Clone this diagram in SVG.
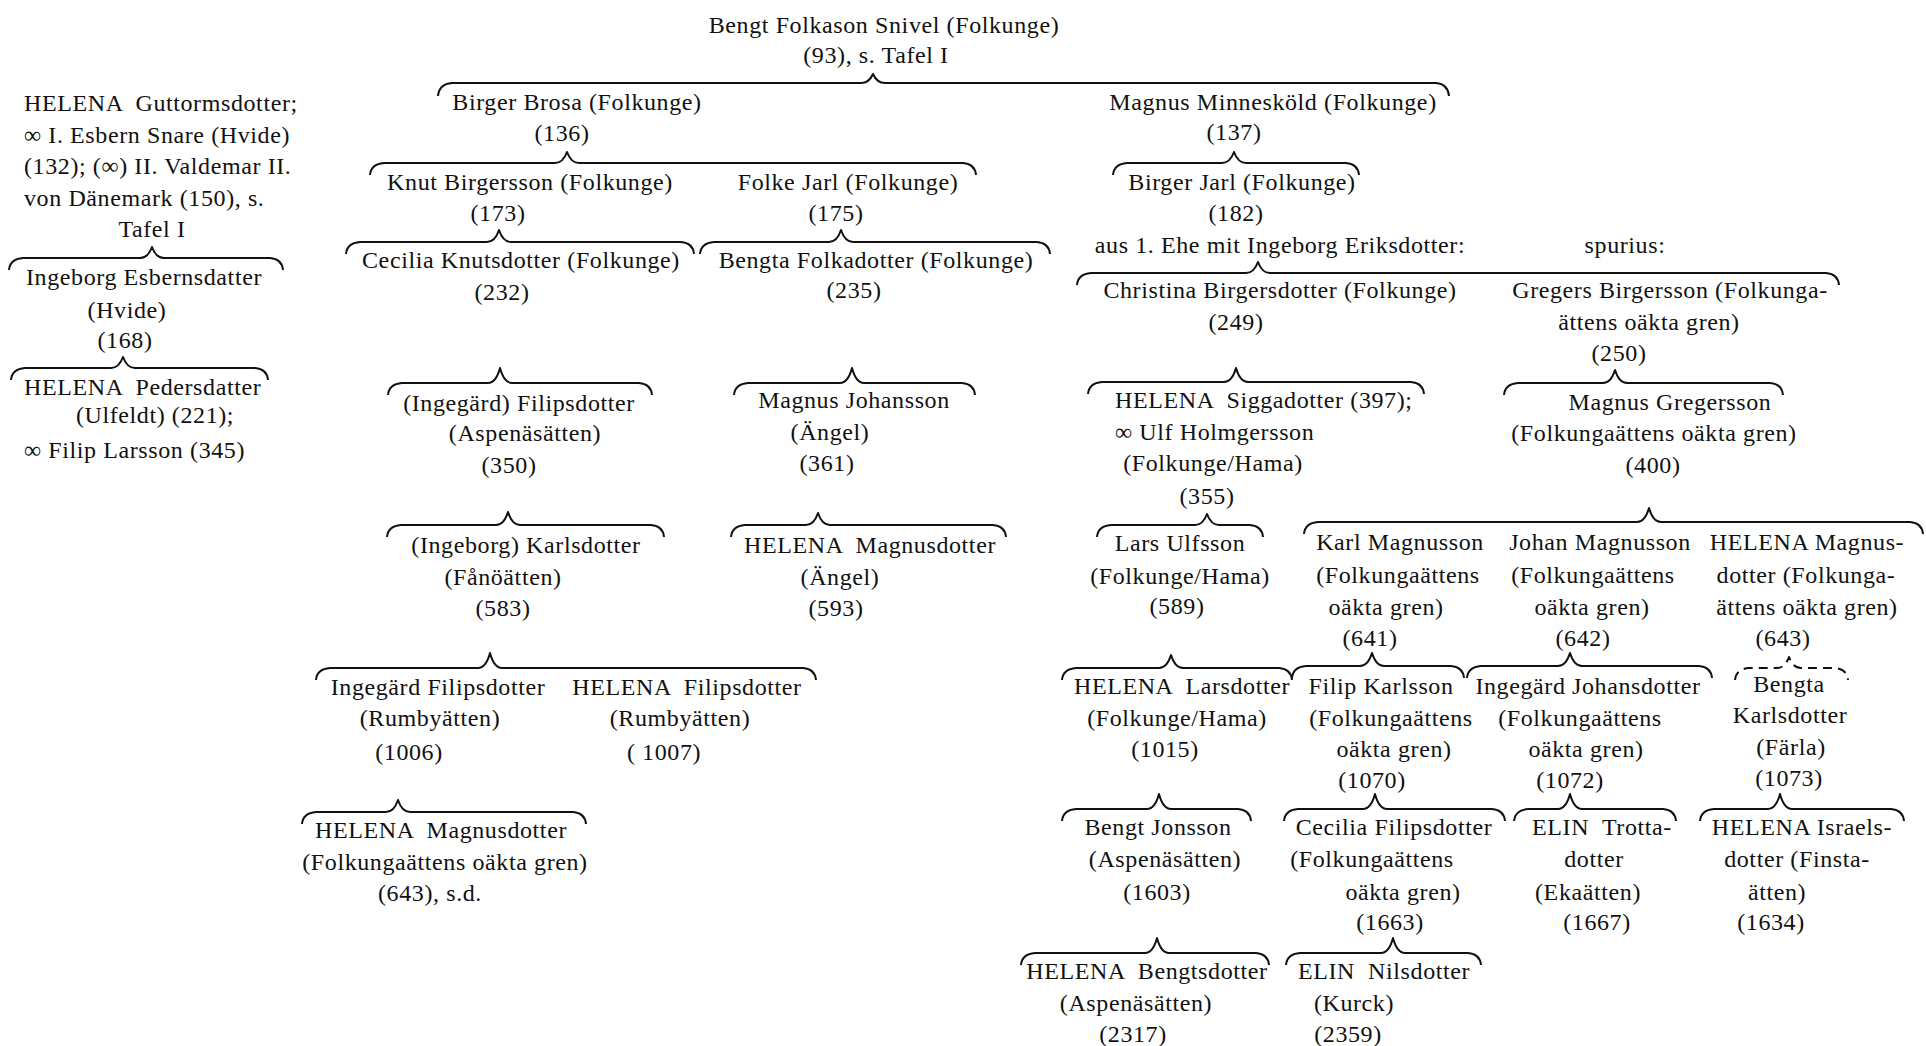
<svg xmlns="http://www.w3.org/2000/svg" width="1926" height="1046" viewBox="0 0 1926 1046">
<style>
text{font-family:"Liberation Serif",serif;font-size:24px;fill:#111;letter-spacing:0.6px;text-anchor:middle;white-space:pre}
text.s{text-anchor:start}
.b{fill:none;stroke:#111;stroke-width:2;stroke-linejoin:round}
.d{stroke-dasharray:9 6}
</style>
<rect width="1926" height="1046" fill="#fff"/>
<g id="connectors">
<path class="b" d="M438,96 Q439,84 452,83 L861,83 Q869,83 873,74 Q877,83 885,83 L1436,83 Q1448,84 1449,96"/>
<path class="b" d="M370,175 Q371,164 384,163 L555,163 Q563,163 567,152 Q571,163 579,163 L963,163 Q975,164 976,175"/>
<path class="b" d="M1113,175 Q1114,164 1127,163 L1222,163 Q1230,163 1234,152 Q1238,163 1246,163 L1346,163 Q1358,164 1359,175"/>
<path class="b" d="M346,254 Q347,243 360,242 L487,242 Q495,242 499,230 Q503,242 511,242 L681,242 Q693,243 694,254"/>
<path class="b" d="M700,254 Q701,243 714,242 L829,242 Q837,242 841,230 Q845,242 853,242 L1037,242 Q1049,243 1050,254"/>
<path class="b" d="M1077,285 Q1078,274 1091,273 L1246,273 Q1254,273 1258,262 Q1262,273 1270,273 L1826,273 Q1838,274 1839,285"/>
<path class="b" d="M388,395 Q389,384 402,383 L488,383 Q496,383 500,368 Q504,383 512,383 L639,383 Q651,384 652,395"/>
<path class="b" d="M734,395 Q735,384 748,383 L840,383 Q848,383 852,368 Q856,383 864,383 L962,383 Q974,384 975,395"/>
<path class="b" d="M1088,394 Q1089,383 1102,382 L1224,382 Q1232,382 1236,368 Q1240,382 1248,382 L1411,382 Q1423,383 1424,394"/>
<path class="b" d="M1504,395 Q1505,384 1518,383 L1603,383 Q1611,383 1615,370 Q1619,383 1627,383 L1770,383 Q1782,384 1783,395"/>
<path class="b" d="M387,537 Q388,526 401,525 L496,525 Q504,525 508,512 Q512,525 520,525 L651,525 Q663,526 664,537"/>
<path class="b" d="M731,537 Q732,526 745,525 L806,525 Q814,525 818,513 Q822,525 830,525 L993,525 Q1005,526 1006,537"/>
<path class="b" d="M1097,537 Q1098,526 1111,525 L1195,525 Q1203,525 1207,514 Q1211,525 1219,525 L1250,525 Q1262,526 1263,537"/>
<path class="b" d="M1304,534 Q1305,523 1318,522 L1637,522 Q1645,522 1649,508 Q1653,522 1661,522 L1910,522 Q1922,523 1923,534"/>
<path class="b" d="M316,680 Q317,669 330,668 L478,668 Q486,668 490,653 Q494,668 502,668 L803,668 Q815,669 816,680"/>
<path class="b" d="M1062,680 Q1063,669 1076,668 L1159,668 Q1167,668 1171,655 Q1175,668 1183,668 L1279,668 Q1291,669 1292,680"/>
<path class="b" d="M1292,678 Q1293,667 1306,666 L1360,666 Q1368,666 1372,653 Q1376,666 1384,666 L1451,666 Q1463,667 1464,678"/>
<path class="b" d="M1467,678 Q1468,667 1481,666 L1558,666 Q1566,666 1570,653 Q1574,666 1582,666 L1699,666 Q1711,667 1712,678"/>
<path class="b d" d="M1735,680 Q1736,669 1749,668 L1777,668 Q1785,668 1789,657 Q1793,668 1801,668 L1835,668 Q1847,669 1848,680"/>
<path class="b" d="M302,824 Q303,813 316,812 L386,812 Q394,812 398,800 Q402,812 410,812 L573,812 Q585,813 586,824"/>
<path class="b" d="M1062,821 Q1063,810 1076,809 L1147,809 Q1155,809 1159,794 Q1163,809 1171,809 L1238,809 Q1250,810 1251,821"/>
<path class="b" d="M1284,821 Q1285,810 1298,809 L1363,809 Q1371,809 1375,794 Q1379,809 1387,809 L1492,809 Q1504,810 1505,821"/>
<path class="b" d="M1514,821 Q1515,810 1528,809 L1558,809 Q1566,809 1570,794 Q1574,809 1582,809 L1663,809 Q1675,810 1676,821"/>
<path class="b" d="M1700,821 Q1701,810 1714,809 L1768,809 Q1776,809 1780,794 Q1784,809 1792,809 L1891,809 Q1903,810 1904,821"/>
<path class="b" d="M1021,965 Q1022,954 1035,953 L1145,953 Q1153,953 1157,938 Q1161,953 1169,953 L1256,953 Q1268,954 1269,965"/>
<path class="b" d="M1286,965 Q1287,954 1300,953 L1381,953 Q1389,953 1393,938 Q1397,953 1405,953 L1468,953 Q1480,954 1481,965"/>
<path class="b" d="M9,270 Q10,259 23,258 L140,258 Q148,258 152,247 Q156,258 164,258 L270,258 Q282,259 283,270"/>
<path class="b" d="M11,380 Q12,369 25,368 L111,368 Q119,368 123,357 Q127,368 135,368 L255,368 Q267,369 268,380"/>
</g>
<g id="n-helena-guttormsdotter">
<text class="s" x="24" y="111">HELENA  Guttormsdotter;</text>
<text class="s" x="24" y="143">∞ I. Esbern Snare (Hvide)</text>
<text class="s" x="24" y="174">(132); (∞) II. Valdemar II.</text>
<text class="s" x="24" y="206">von Dänemark (150), s.</text>
<text x="152" y="237">Tafel I</text>
</g>
<g id="n-ingeborg-esbernsdatter">
<text x="144" y="285">Ingeborg Esbernsdatter</text>
<text x="127" y="318">(Hvide)</text>
<text x="125" y="348">(168)</text>
</g>
<g id="n-helena-pedersdatter">
<text class="s" x="24" y="395">HELENA  Pedersdatter</text>
<text x="155" y="423">(Ulfeldt) (221);</text>
<text class="s" x="24" y="458">∞ Filip Larsson (345)</text>
</g>
<g id="n-bengt-folkason">
<text x="884" y="33">Bengt Folkason Snivel (Folkunge)</text>
<text x="876" y="63">(93), s. Tafel I</text>
</g>
<g id="n-birger-brosa">
<text x="577" y="110">Birger Brosa (Folkunge)</text>
<text x="562" y="141">(136)</text>
</g>
<g id="n-magnus-minneskold">
<text x="1273" y="110">Magnus Minnesköld (Folkunge)</text>
<text x="1234" y="140">(137)</text>
</g>
<g id="n-knut-birgersson">
<text x="530" y="190">Knut Birgersson (Folkunge)</text>
<text x="498" y="221">(173)</text>
</g>
<g id="n-folke-jarl">
<text x="848" y="190">Folke Jarl (Folkunge)</text>
<text x="836" y="221">(175)</text>
</g>
<g id="n-birger-jarl">
<text x="1242" y="190">Birger Jarl (Folkunge)</text>
<text x="1236" y="221">(182)</text>
<text x="1280" y="253">aus 1. Ehe mit Ingeborg Eriksdotter:</text>
<text x="1625" y="253">spurius:</text>
</g>
<g id="n-cecilia-knutsdotter">
<text x="521" y="268">Cecilia Knutsdotter (Folkunge)</text>
<text x="502" y="300">(232)</text>
</g>
<g id="n-bengta-folkadotter">
<text x="876" y="268">Bengta Folkadotter (Folkunge)</text>
<text x="854" y="298">(235)</text>
</g>
<g id="n-christina-birgersdotter">
<text x="1280" y="298">Christina Birgersdotter (Folkunge)</text>
<text x="1236" y="330">(249)</text>
</g>
<g id="n-gregers-birgersson">
<text x="1670" y="298">Gregers Birgersson (Folkunga-</text>
<text x="1649" y="330">ättens oäkta gren)</text>
<text x="1619" y="361">(250)</text>
</g>
<g id="n-ingegard-filipsdotter-350">
<text x="519" y="411">(Ingegärd) Filipsdotter</text>
<text x="525" y="441">(Aspenäsätten)</text>
<text x="509" y="473">(350)</text>
</g>
<g id="n-magnus-johansson">
<text x="854" y="408">Magnus Johansson</text>
<text x="830" y="440">(Ängel)</text>
<text x="827" y="471">(361)</text>
</g>
<g id="n-helena-siggadotter">
<text class="s" x="1115" y="408">HELENA  Siggadotter (397);</text>
<text class="s" x="1115" y="440">∞ Ulf Holmgersson</text>
<text x="1213" y="471">(Folkunge/Hama)</text>
<text x="1207" y="504">(355)</text>
</g>
<g id="n-magnus-gregersson">
<text x="1670" y="410">Magnus Gregersson</text>
<text x="1654" y="441">(Folkungaättens oäkta gren)</text>
<text x="1653" y="473">(400)</text>
</g>
<g id="n-ingeborg-karlsdotter">
<text x="526" y="553">(Ingeborg) Karlsdotter</text>
<text x="503" y="585">(Fånöätten)</text>
<text x="503" y="616">(583)</text>
</g>
<g id="n-helena-magnusdotter-593">
<text x="870" y="553">HELENA  Magnusdotter</text>
<text x="840" y="585">(Ängel)</text>
<text x="836" y="616">(593)</text>
</g>
<g id="n-lars-ulfsson">
<text x="1180" y="551">Lars Ulfsson</text>
<text x="1180" y="584">(Folkunge/Hama)</text>
<text x="1177" y="614">(589)</text>
</g>
<g id="n-karl-magnusson">
<text x="1400" y="550">Karl Magnusson</text>
<text x="1398" y="583">(Folkungaättens</text>
<text x="1386" y="615">oäkta gren)</text>
<text x="1370" y="646">(641)</text>
</g>
<g id="n-johan-magnusson">
<text x="1600" y="550">Johan Magnusson</text>
<text x="1593" y="583">(Folkungaättens</text>
<text x="1592" y="615">oäkta gren)</text>
<text x="1583" y="646">(642)</text>
</g>
<g id="n-helena-magnusdotter-643">
<text x="1807" y="550">HELENA Magnus-</text>
<text x="1806" y="583">dotter (Folkunga-</text>
<text x="1807" y="615">ättens oäkta gren)</text>
<text x="1783" y="646">(643)</text>
</g>
<g id="n-ingegard-filipsdotter-1006">
<text x="438" y="695">Ingegärd Filipsdotter</text>
<text x="430" y="726">(Rumbyätten)</text>
<text x="409" y="760">(1006)</text>
</g>
<g id="n-helena-filipsdotter">
<text x="687" y="695">HELENA  Filipsdotter</text>
<text x="680" y="726">(Rumbyätten)</text>
<text x="664" y="760">( 1007)</text>
</g>
<g id="n-helena-larsdotter">
<text x="1182" y="694">HELENA  Larsdotter</text>
<text x="1177" y="726">(Folkunge/Hama)</text>
<text x="1165" y="757">(1015)</text>
</g>
<g id="n-filip-karlsson">
<text x="1381" y="694">Filip Karlsson</text>
<text x="1391" y="726">(Folkungaättens</text>
<text x="1394" y="757">oäkta gren)</text>
<text x="1372" y="788">(1070)</text>
</g>
<g id="n-ingegard-johansdotter">
<text x="1588" y="694">Ingegärd Johansdotter</text>
<text x="1580" y="726">(Folkungaättens</text>
<text x="1586" y="757">oäkta gren)</text>
<text x="1570" y="788">(1072)</text>
</g>
<g id="n-bengta-karlsdotter">
<text x="1789" y="692">Bengta</text>
<text x="1790" y="723">Karlsdotter</text>
<text x="1791" y="755">(Färla)</text>
<text x="1789" y="786">(1073)</text>
</g>
<g id="n-helena-magnusdotter-sd">
<text x="441" y="838">HELENA  Magnusdotter</text>
<text x="445" y="870">(Folkungaättens oäkta gren)</text>
<text x="430" y="901">(643), s.d.</text>
</g>
<g id="n-bengt-jonsson">
<text x="1158" y="835">Bengt Jonsson</text>
<text x="1165" y="867">(Aspenäsätten)</text>
<text x="1157" y="900">(1603)</text>
</g>
<g id="n-cecilia-filipsdotter">
<text x="1394" y="835">Cecilia Filipsdotter</text>
<text x="1372" y="867">(Folkungaättens</text>
<text x="1403" y="900">oäkta gren)</text>
<text x="1390" y="930">(1663)</text>
</g>
<g id="n-elin-trottadotter">
<text x="1602" y="835">ELIN  Trotta-</text>
<text x="1594" y="867">dotter</text>
<text x="1588" y="900">(Ekaätten)</text>
<text x="1597" y="930">(1667)</text>
</g>
<g id="n-helena-israelsdotter">
<text x="1802" y="835">HELENA Israels-</text>
<text x="1797" y="867">dotter (Finsta-</text>
<text x="1777" y="900">ätten)</text>
<text x="1771" y="930">(1634)</text>
</g>
<g id="n-helena-bengtsdotter">
<text x="1147" y="979">HELENA  Bengtsdotter</text>
<text x="1136" y="1011">(Aspenäsätten)</text>
<text x="1133" y="1042">(2317)</text>
</g>
<g id="n-elin-nilsdotter">
<text x="1384" y="979">ELIN  Nilsdotter</text>
<text x="1354" y="1011">(Kurck)</text>
<text x="1348" y="1042">(2359)</text>
</g>
</svg>
